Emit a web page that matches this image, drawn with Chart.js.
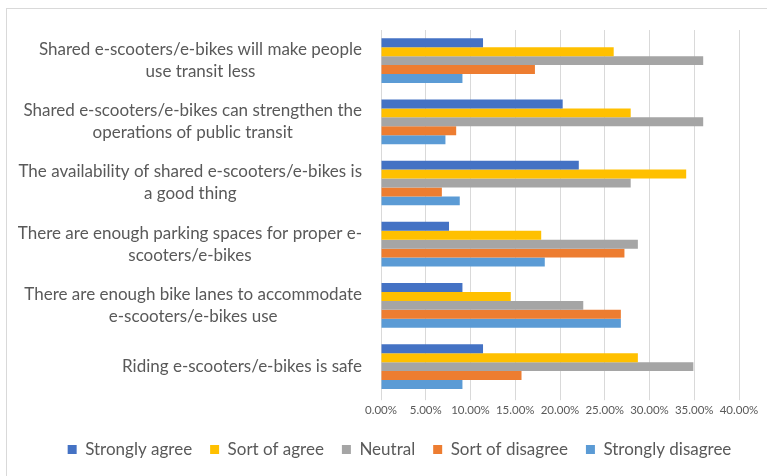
<!DOCTYPE html>
<html>
<head>
<meta charset="utf-8">
<script src="https://cdn.jsdelivr.net/npm/chart.js@4.4.1/dist/chart.umd.min.js"></script>
<style>
  body { margin: 0; background: #fff; }
  #wrap { position: relative; width: 767px; height: 476px; overflow: hidden; }
  #frame { position: absolute; left: 6px; top: 8px; width: 800px; height: 500px;
           border-top: 1px solid #d9d9d9; border-left: 1px solid #d9d9d9; }
  #chart { position: absolute; left: 0; top: 0; }
</style>
</head>
<body>
<div id="wrap">
  <div id="frame"></div>
  <canvas id="chart" width="767" height="476"></canvas>
</div>
<script>
// ── Datos ──
const statements = [
    ['Shared e-scooters/e-bikes will make people', 'use transit less'],
    ['Shared e-scooters/e-bikes can strengthen the', 'operations of public transit'],
    ['The availability of shared e-scooters/e-bikes is', 'a good thing'],
    ['There are enough parking spaces for proper e-', 'scooters/e-bikes'],
    ['There are enough bike lanes to accommodate', 'e-scooters/e-bikes use'],
    ['Riding e-scooters/e-bikes is safe']
];
const stronglyAgree    = [11.4, 20.3, 22.1,  7.6,  9.1, 11.4];
const sortOfAgree      = [26.0, 27.9, 34.1, 17.9, 14.5, 28.7];
const neutral          = [36.0, 36.0, 27.9, 28.7, 22.6, 34.9];
const sortOfDisagree   = [17.2,  8.4,  6.8, 27.2, 26.8, 15.7];
const stronglyDisagree = [ 9.1,  7.2,  8.8, 18.3, 26.8,  9.1];
const xTicks = [0, 5, 10, 15, 20, 25, 30, 35, 40];

const FONT = 'Lato, "Open Sans", sans-serif';
const GREY = '#595959';

function ds(label, data, color) {
    return { label, data, backgroundColor: color, borderWidth: 0,
             barPercentage: 1, categoryPercentage: 0.73 };
}

// ── Etiquetas de categoría (bloque alineado a la derecha, líneas centradas) ──
const catLabels = {
    id: 'catLabels',
    afterLayout(chart) {
        // leyenda algo desplazada a la derecha, como en el original
        chart.legend.left += 30;
        chart.legend.right += 30;
    },
    afterDraw(chart) {
        const ctx = chart.ctx, y = chart.scales.y;
        ctx.save();
        ctx.font = '17px ' + FONT;
        ctx.fillStyle = GREY;
        ctx.textAlign = 'center';
        ctx.textBaseline = 'middle';
        const right = 362, lh = 22;
        statements.forEach(function (lines, i) {
            const w = Math.max.apply(null, lines.map(l => ctx.measureText(l).width));
            const cx = right - w / 2;
            const cy = y.getPixelForValue(i);
            lines.forEach(function (l, k) {
                ctx.fillText(l, cx, cy + (k - (lines.length - 1) / 2) * lh);
            });
        });
        ctx.restore();
    }
};

new Chart(document.getElementById('chart'), {
    type: 'bar',
    data: {
        labels: statements.map(s => s.join(' ')),
        datasets: [
            ds('Strongly agree', stronglyAgree, '#4472C4'),
            ds('Sort of agree', sortOfAgree, '#FFC000'),
            ds('Neutral', neutral, '#A5A5A5'),
            ds('Sort of disagree', sortOfDisagree, '#ED7D31'),
            ds('Strongly disagree', stronglyDisagree, '#5B9BD5')
        ]
    },
    options: {
        indexAxis: 'y',
        responsive: false,
        animation: false,
        layout: { padding: { top: 30, right: 28, left: 0, bottom: 8 } },
        plugins: {
            tooltip: { enabled: false },
            legend: {
                position: 'bottom',
                labels: { boxWidth: 9, boxHeight: 9, padding: 18, color: GREY,
                          font: { family: FONT, size: 17 } }
            }
        },
        scales: {
            x: {
                min: 0, max: 40,
                afterBuildTicks: s => { s.ticks = xTicks.map(v => ({ value: v })); },
                afterFit: s => { s.height += 3; },
                ticks: { color: GREY, font: { family: FONT, size: 11.5 }, padding: 3,
                         callback: v => v.toFixed(2) + '%' },
                grid: { color: '#d9d9d9', lineWidth: 1, tickLength: 3 },
                border: { display: false }
            },
            y: {
                ticks: { display: false },
                grid: { display: false },
                border: { display: false },
                afterFit: s => { s.width = 381; }
            }
        }
    },
    plugins: [catLabels]
});
</script>
</body>
</html>
